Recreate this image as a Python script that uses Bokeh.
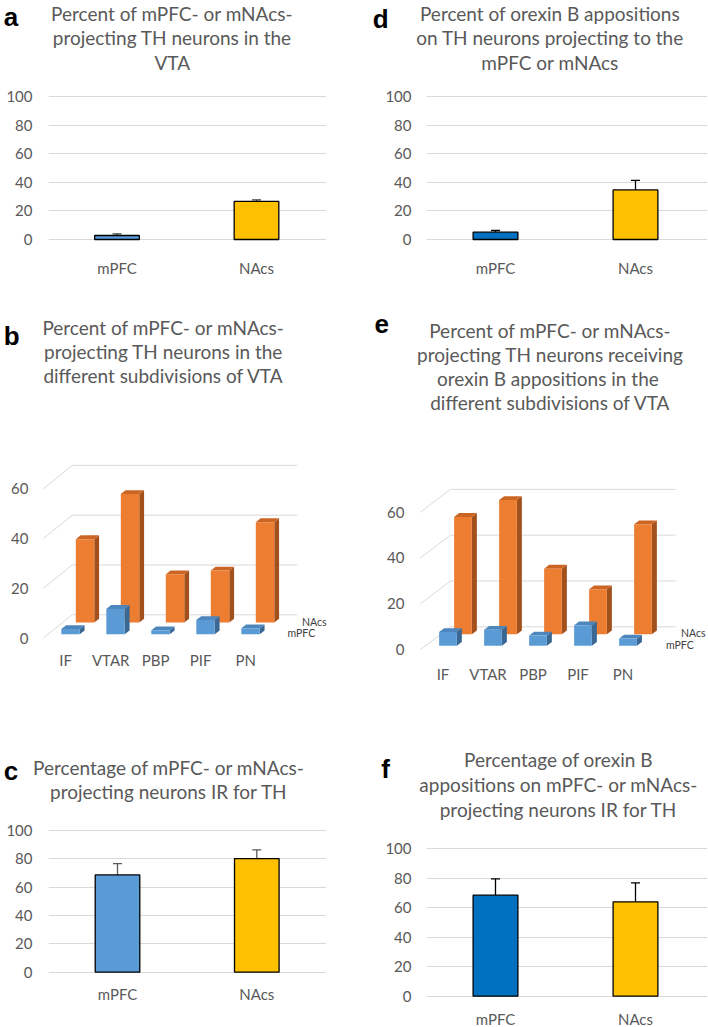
from bokeh.plotting import figure
from bokeh.layouts import column, row
from bokeh.models import Range1d, FixedTicker, Whisker, TeeHead, ColumnDataSource
from bokeh.core.properties import value
from bokeh.embed import file_html
from bokeh.resources import INLINE

# ---------------- data ----------------
series = ["mPFC", "NAcs"]
regions = ["IF", "VTAR", "PBP", "PIF", "PN"]

a_vals = [2.8, 26.6]
a_err = [1.2, 1.1]
d_vals = [5.1, 34.7]
d_err = [1.2, 6.6]
c_vals = [68.5, 80.0]
c_err = [8.0, 6.2]
f_vals = [68.4, 63.9]
f_err = [11.1, 12.8]

b_mpfc = [2.1, 10.2, 1.6, 5.7, 2.4]
b_nacs = [33.5, 51.6, 19.4, 20.9, 40.3]
e_mpfc = [6.0, 7.0, 4.5, 8.9, 3.1]
e_nacs = [51.3, 58.7, 28.7, 19.7, 48.1]

ticks100 = [0, 20, 40, 60, 80, 100]
ticks60 = [0, 20, 40, 60]

title_a = ["Percent of mPFC- or mNAcs-", "projecting TH neurons in the", "VTA"]
title_d = ["Percent of orexin B appositions", "on TH neurons projecting to the", "mPFC or mNAcs"]
title_b = ["Percent of mPFC- or mNAcs-", "projecting TH neurons in the", "different subdivisions of VTA"]
title_e = ["Percent of mPFC- or mNAcs-", "projecting TH neurons receiving",
           "orexin B appositions  in the", "different subdivisions of VTA"]
title_c = ["Percentage of mPFC- or mNAcs-", "projecting neurons IR for TH"]
title_f = ["Percentage of orexin B", "appositions on mPFC- or mNAcs-", "projecting neurons IR for TH"]

TXT = "#595959"
GRID = "#D9D9D9"
FONT = "Lato"
TITLE_PX = 19
LETTER_PX = 26
TICK_PX = 15


# ---------------- helpers ----------------
def make_fig(box, frame, xmap, ymap):
    fx, fy, fw, fh = box
    fl, ft, fr, fb = frame
    x0p, sx = xmap
    y0p, sy = ymap
    xr = Range1d((fl - x0p) / sx, (fr - x0p) / sx)
    yr = Range1d((y0p - fb) / sy, (y0p - ft) / sy)
    p = figure(frame_width=fr - fl, frame_height=fb - ft,
               min_border_left=fl - fx, min_border_right=fx + fw - fr,
               min_border_top=ft - fy, min_border_bottom=fy + fh - fb,
               x_range=xr, y_range=yr, output_backend="svg", title=None,
               toolbar_location=None, tools="")
    p.outline_line_color = None
    p.xgrid.visible = False
    p.background_fill_color = "white"
    p.border_fill_color = "white"
    return p


def title_fig(box, letter, lpos, lines, cx, baselines):
    fx, fy, fw, fh = box
    p = figure(width=fw, height=fh, min_border=0,
               x_range=Range1d(fx, fx + fw), y_range=Range1d(fy + fh, fy),
               x_axis_location=None, y_axis_location=None, title=None,
               output_backend="svg", toolbar_location=None, tools="")
    p.outline_line_color = None
    p.grid.visible = False
    p.text(x=[lpos[0]], y=[lpos[1] - 0.31 * LETTER_PX], text=[letter], text_align="left",
           text_baseline="alphabetic", text_font=value("Liberation Sans"),
           text_font_style="bold", text_font_size=f"{LETTER_PX}px", text_color="black")
    p.text(x=[cx] * len(lines), y=[b - 0.31 * TITLE_PX for b in baselines], text=lines,
           text_align="center", text_baseline="alphabetic", text_font=value(FONT),
           text_font_size=f"{TITLE_PX}px", text_color=TXT)
    return p


def style_axes(p, yticks, xlabels, ystand, xstand, grid=True):
    p.yaxis.ticker = FixedTicker(ticks=yticks)
    p.xaxis.ticker = FixedTicker(ticks=list(range(len(xlabels))))
    p.xaxis.major_label_overrides = {i: s for i, s in enumerate(xlabels)}
    for ax in (p.xaxis[0], p.yaxis[0]):
        ax.axis_line_color = None
        ax.major_tick_line_color = None
        ax.minor_tick_line_color = None
        ax.major_tick_out = 0
        ax.major_tick_in = 0
        ax.minor_tick_out = 0
        ax.minor_tick_in = 0
        ax.major_label_text_font = FONT
        ax.major_label_text_font_size = f"{TICK_PX}px"
        ax.major_label_text_color = TXT
    p.yaxis.major_label_standoff = ystand
    p.xaxis.major_label_standoff = xstand
    if grid:
        p.ygrid.ticker = FixedTicker(ticks=yticks)
        p.ygrid.grid_line_color = GRID
        p.ygrid.grid_line_width = 1
    else:
        p.ygrid.visible = False


def bars2d(p, vals, errs, colors, err_color):
    xs = list(range(len(vals)))
    src = ColumnDataSource(dict(x=xs, top=vals, hi=[v + e for v, e in zip(vals, errs)], color=colors))
    p.vbar(x="x", top="top", bottom=0, width=0.32, fill_color="color",
           line_color="black", line_width=1.3, source=src)
    w = Whisker(base="x", lower="top", upper="hi", source=src, line_color=err_color,
                line_width=1.3,
                upper_head=TeeHead(size=9, line_color=err_color, line_width=1.3),
                lower_head=None)
    p.add_layout(w)


FACE = {
    "mPFC": ("#5B9BD5", "#4C86BD", "#3A6893"),
    "NAcs": ("#ED7D31", "#CC6424", "#A3511C"),
}


def draw3d(p, series_vals, names, depth_px, sx, sy, hw, yticks, lab_off):
    DX = depth_px[0] / sx
    DY = depth_px[1] / sy
    ncat = len(series_vals[0])
    gx = [[-0.5, -0.5 + DX, ncat - 0.5 + DX] for v in yticks]
    gy = [[v, v + DY, v + DY] for v in yticks]
    p.multi_line(gx, gy, line_color=GRID, line_width=1)
    nser = len(series_vals)
    for k in reversed(range(nser)):
        d0 = (k + 1 / 3) / nser
        dd = 1 / (3 * nser)
        vals = series_vals[k]
        fxs, fys, txs, tys, sxs, sys_ = [], [], [], [], [], []
        for i, v in enumerate(vals):
            xl = i - hw + d0 * DX
            xr = i + hw + d0 * DX
            yb = d0 * DY
            yt = v + d0 * DY
            ex, ey = dd * DX, dd * DY
            fxs.append([xl, xr, xr, xl]); fys.append([yb, yb, yt, yt])
            txs.append([xl, xr, xr + ex, xl + ex]); tys.append([yt, yt, yt + ey, yt + ey])
            sxs.append([xr, xr + ex, xr + ex, xr]); sys_.append([yb, yb + ey, yt + ey, yt])
        front, top, side = FACE[names[k]]
        p.patches(sxs, sys_, fill_color=side, line_color=None)
        p.patches(txs, tys, fill_color=top, line_color=None)
        p.patches(fxs, fys, fill_color=front, line_color=None)
    lx = [ncat - 0.5 + (k + 0.5) / nser * DX for k in range(nser)]
    ly = [(k + 0.5) / nser * DY for k in range(nser)]
    p.text(x=lx, y=ly, text=names, x_offset=lab_off, y_offset=1, text_baseline="middle",
           text_align="left", text_font=value(FONT), text_font_size="10.5px", text_color="#404040")


# ---------------- row 1 ----------------
ta = title_fig((0, 0, 354, 84), "a", (3.3, 25), title_a, 171.7, [19, 43.3, 67.7])
td = title_fig((354, 0, 354, 84), "d", (372.3, 26.7), title_d, 549.5, [19, 43.3, 67.7])

fr_a = (48, 90, 326, 241)
pa = make_fig((0, 84, 354, 206), fr_a, (116.5, 139.5), (239, 1.43))
style_axes(pa, ticks100, series, 16, 17)
bars2d(pa, a_vals, a_err, ["#5B9BD5", "#FFC000"], "#404040")

fr_d = (426, 90, 707, 241)
pd_ = make_fig((354, 84, 354, 206), fr_d, (495, 140), (239, 1.43))
style_axes(pd_, ticks100, series, 15, 17)
bars2d(pd_, d_vals, d_err, ["#0070C0", "#FFC000"], "black")

# ---------------- row 2 ----------------
tb = title_fig((0, 290, 354, 128), "b", (3.3, 343.3), title_b, 163, [332.7, 356.7, 380.7])
te = title_fig((354, 290, 354, 128), "e", (374, 331.7), title_e, 549.8, [336, 360, 384.3, 408.3])

fr_b = (38, 455, 346, 650)
pb = make_fig((0, 418, 354, 282), fr_b, (65.2, 45), (637.7, 2.49))
style_axes(pb, ticks60, regions, 10, 0, grid=False)
draw3d(pb, [b_mpfc, b_nacs], series, (29, 23.4), 45, 2.49, 0.205, ticks60, 12)

fr_e = (416, 455, 708, 650)
pe = make_fig((354, 418, 354, 282), fr_e, (442.5, 45), (649, 2.29))
style_axes(pe, ticks60, regions, 12, 14, grid=False)
draw3d(pe, [e_mpfc, e_nacs], series, (30, 22.7), 45, 2.29, 0.197, ticks60, 13)

# ---------------- row 3 ----------------
tc = title_fig((0, 700, 354, 120), "c", (3.3, 778.3), title_c, 168.3, [772.7, 797.3])
tf = title_fig((354, 700, 354, 120), "f", (380.7, 776.5), title_f, 558, [764.7, 789.7, 814.7])

fr_c = (48, 820, 326, 1004)
c_zero, c_scale = 971.7, 1.42
pc = make_fig((0, 820, 354, 207), fr_c, (117, 139.3), (c_zero, c_scale))
style_axes(pc, ticks100, series, 16, 2)
c_label_center = 993
pc.xaxis.fixed_location = (c_zero - (c_label_center - 0.6 * TICK_PX - 2)) / c_scale
bars2d(pc, c_vals, c_err, ["#5B9BD5", "#FFC000"], "#595959")

fr_f = (426, 820, 707, 1004)
pf = make_fig((354, 820, 354, 207), fr_f, (495, 140), (995.7, 1.477))
style_axes(pf, ticks100, series, 15, 5)
bars2d(pf, f_vals, f_err, ["#0070C0", "#FFC000"], "black")

layout = column(row(ta, td), row(pa, pd_), row(tb, te), row(pb, pe), row(tc, tf), row(pc, pf))
open("out.html", "w").write(file_html(layout, INLINE))
